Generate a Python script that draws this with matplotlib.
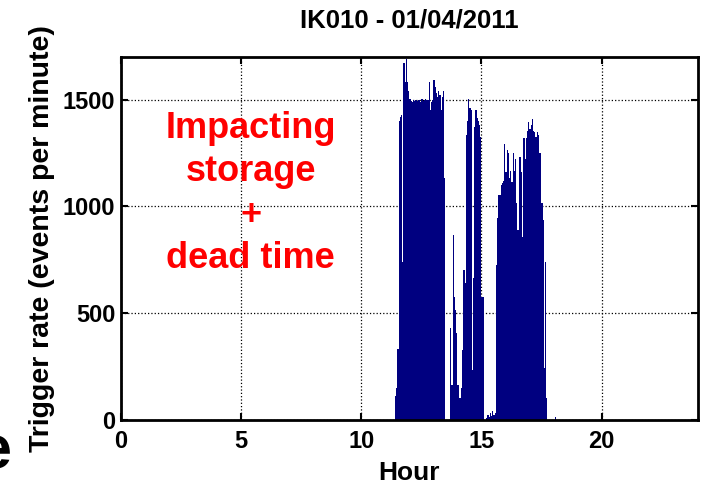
import numpy as np
import matplotlib.pyplot as plt

# trigger rate, 3-minute bins starting at 11:21 (hour 11.35)
start_hour = 11.35
bin_width = 0.05
rate = [
    0, 110, 150, 330, 1400, 1420, 1430, 740, 1670, 1580,      # 11.35 - 11.80
    1690, 1580, 1540, 1505, 1495, 1490, 1500, 1495, 1500, 1492,  # 11.85 - 12.30
    1498, 1500, 1490, 1502, 1495, 1500, 1505, 1498, 1500, 1580,  # 12.35 - 12.80
    1450, 1490, 1500, 1590, 1560, 1533, 1510, 1540, 1520, 1450,  # 12.85 - 13.30
    1510, 1540, 1135, 0, 0, 0, 0, 430, 163, 864,               # 13.35 - 13.80
    575, 514, 407, 163, 103, 103, 150, 327, 700, 640,          # 13.85 - 14.30
    1332, 1400, 1505, 1460, 1450, 233, 663, 1373, 1450, 1413,  # 14.35 - 14.80
    1400, 1380, 1323, 575, 575, 0, 0, 10, 25, 15,              # 14.85 - 15.30
    30, 20, 40, 25, 30, 724, 944, 1051, 1051, 1098,            # 15.35 - 15.80
    1110, 1121, 1294, 1159, 1262, 1252, 1135, 1166, 1112, 1248,  # 15.85 - 16.30
    1166, 1224, 1014, 888, 1229, 1229, 1159, 855, 1318, 1224,  # 16.35 - 16.80
    1318, 1355, 1393, 1364, 1380, 1411, 1355, 1350, 1323, 1350,  # 16.85 - 17.30
    1332, 1248, 1248, 1014, 935, 243, 738, 103, 0, 0,          # 17.35 - 17.80
    0, 0, 0, 0, 15, 0,                                         # 17.85 - 18.10
]
edges = start_hour + bin_width * np.arange(len(rate) + 1)

x_ticks = [0, 5, 10, 15, 20]
y_ticks = [0, 500, 1000, 1500]

plt.rcParams['font.family'] = ['Liberation Sans', 'DejaVu Sans']
plt.rcParams['font.weight'] = 'bold'

fig = plt.figure(figsize=(7.2, 4.86), dpi=100)
ax = fig.add_axes([0.168, 0.136, 0.801, 0.747])

ax.stairs(rate, edges, fill=True, color='#000080', zorder=2)

ax.set_xlim(0, 24)
ax.set_ylim(0, 1700)
ax.set_xticks(x_ticks)
ax.set_yticks(y_ticks)
ax.grid(True, linestyle=':', color='black', linewidth=0.9)
ax.set_axisbelow(True)
ax.tick_params(direction='in', length=5, width=1.5, top=True, right=True,
               labelsize=17, pad=4)
ax.tick_params(axis='x', pad=7)
for sp in ax.spines.values():
    sp.set_linewidth(2)

ax.set_title('IK010 - 01/04/2011', fontsize=18.5, fontweight='bold', pad=21)
ax.set_xlabel('Hour', fontsize=19, fontweight='bold', labelpad=6)
ax.set_ylabel('Trigger rate (events per minute)', fontsize=20.5,
              fontweight='bold', labelpad=6)

ax.text(5.4, 1060, 'Impacting\nstorage\n+\ndead time', color='red',
        fontsize=26, fontweight='bold', ha='center', va='center',
        linespacing=1.3, zorder=3)

# leftover letter from the slide edge
fig.text(0.016, 0.068, 'e', fontsize=44, ha='right', va='center',
         fontweight='bold')

fig.savefig('out.png', dpi=100)
